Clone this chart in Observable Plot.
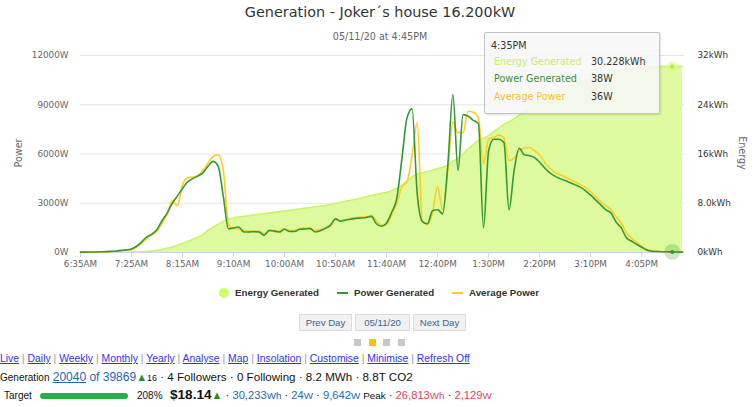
<!DOCTYPE html>
<html><head><meta charset="utf-8">
<script src="https://cdn.jsdelivr.net/npm/d3@7"></script>
<script src="https://cdn.jsdelivr.net/npm/@observablehq/plot@0.6"></script>
<style>
body{margin:0;background:#fff;}
#wrap{position:relative;width:756px;height:407px;overflow:hidden;font-family:"Liberation Sans",Arial,sans-serif;}
.abs{position:absolute;white-space:nowrap;}
#chart{position:absolute;left:0;top:0;}
.dj{font-family:"DejaVu Sans",sans-serif;}
.btn{position:absolute;top:314px;height:15px;background:#f1f1f1;border:1px solid #dcdcdc;color:#3a6493;font-size:9.6px;line-height:15px;text-align:center;}
.sq{position:absolute;top:339px;width:7px;height:7px;background:#c8c8c8;}
a{color:#3333ee;text-decoration:underline;}
.sep{color:#999;}
.blue{color:#2467b3;}
.red{color:#e0455a;}
</style></head><body><div id="wrap">
<div id="chart"></div>
<div class="abs dj" style="left:0;width:760px;text-align:center;top:4px;font-size:14.4px;line-height:16px;color:#333;">Generation - Joker´s house 16.200kW</div>
<div class="abs dj" style="left:0;width:760px;text-align:center;top:31px;font-size:9.6px;line-height:11px;color:#666;">05/11/20 at 4:45PM</div>
<div class="abs dj" style="left:18px;top:153px;font-size:9.6px;color:#666;transform:translate(-50%,-50%) rotate(-90deg);">Power</div>
<div class="abs dj" style="left:742px;top:153px;font-size:9.6px;color:#666;transform:translate(-50%,-50%) rotate(90deg);">Energy</div>
<div id="tip" class="abs dj" style="left:484px;top:32px;width:174px;height:80px;background:rgba(247,247,247,0.88);border:1px solid #c4c4c4;border-radius:2px;box-shadow:1px 1px 2px rgba(0,0,0,0.12);font-size:9.6px;color:#333;">
</div>
<div id="legend" class="abs" style="left:0;top:286px;width:756px;height:14px;font-size:9.75px;font-weight:bold;color:#333;"></div>
<div class="btn" style="left:299px;width:51px;">Prev Day</div>
<div class="btn" style="left:355px;width:53px;">05/11/20</div>
<div class="btn" style="left:413px;width:51px;">Next Day</div>
<div class="sq" style="left:354px;"></div>
<div class="sq" style="left:369px;background:#f5c400;"></div>
<div class="sq" style="left:383px;"></div>
<div class="sq" style="left:398px;"></div>
<div id="links" class="abs" style="left:0;top:353px;font-size:10.4px;line-height:12px;"></div>
<div class="abs" style="left:0;top:370px;font-size:11.6px;line-height:14px;color:#111;"><span style="font-size:10px;">Generation</span> <a class="blue" style="font-size:12px;color:#2467b3;">20040</a><span class="blue" style="font-size:12px;"> of 39869</span><span style="color:#2a8a2a;font-size:11px;">▲</span><span style="font-size:9px;">16</span> · 4 Followers · 0 Following · 8.2 MWh · 8.8T CO2</div>
<div class="abs" style="left:4px;top:389px;font-size:10px;line-height:14px;color:#111;">Target</div>
<div class="abs" style="left:40px;top:393px;width:88px;height:6px;border-radius:3px;background:#27b04a;"></div>
<div class="abs" style="left:137px;top:389px;font-size:10px;line-height:14px;color:#111;">208%</div>
<div class="abs" style="left:170px;top:387px;font-size:11.2px;line-height:16px;color:#111;"><b style="font-size:13.6px;">$18.14</b><span style="color:#2a8a2a;font-size:11px;">▲</span> · <span class="blue">30,233</span><span class="blue" style="font-size:9.8px;">Wh</span> · <span class="blue">24</span><span class="blue" style="font-size:9.8px;">W</span> · <span class="blue">9,642</span><span class="blue" style="font-size:9.8px;">W</span> <span style="font-size:9.8px;">Peak</span> · <span class="red">26,813</span><span class="red" style="font-size:9.8px;">Wh</span> · <span class="red">2,129</span><span class="red" style="font-size:9.8px;">W</span></div>
</div>
<script>
// ---- data ----
const timeLabels = ["6:35AM","7:25AM","8:15AM","9:10AM","10:00AM","10:50AM","11:40AM","12:40PM","1:30PM","2:20PM","3:10PM","4:05PM"];
const tickIdx = [0,10,20,30,40,50,60,70,80,90,100,110];
const powerTicks = [0,3000,6000,9000,12000];
const energyTicks = [0,8,16,24,32];
const energyTickLabels = ["0kWh","8.0kWh","16kWh","24kWh","32kWh"];
const power = [20,25,30,35,45,55,70,90,130,160,
 220,380,650,950,1120,1400,1950,2400,3000,3450,
 3900,4300,4500,4650,4850,5250,5550,5250,3400,1450,
 1500,1550,1250,1250,1270,1250,1050,1350,1300,1250,
 1420,1280,1280,1420,1430,1470,1250,1330,1470,1650,
 2050,1900,1980,2030,2080,2100,2130,2200,1750,1600,
 1800,2450,3300,5700,8200,8750,3600,1900,1750,2550,
 2600,2350,5300,9620,5000,8400,8300,8050,7850,1500,
 6200,6900,6900,6700,2600,5000,6350,5950,5900,5780,
 5500,5150,4850,4650,4500,4380,4250,4120,3980,3760,
 3500,3200,2900,2600,2400,1850,1500,900,700,500,
 320,150,80,60,48,42,38,30,24];
const avgPower = [15,20,25,30,40,50,60,80,110,140,
 190,330,560,850,1100,1300,1800,2350,3150,2850,
 4100,4550,4600,4700,5000,5450,5850,5950,5000,1700,
 1450,1450,1350,1300,1280,1300,1150,1300,1350,1300,
 1450,1330,1350,1450,1500,1450,1350,1400,1500,1700,
 2000,1950,2000,2080,2120,2150,2180,2250,1950,1650,
 1700,2300,3000,4000,4300,5900,7900,1900,1700,2400,
 4000,2600,5000,7950,7300,7300,8600,8550,8200,5400,
 6900,7000,7150,7000,5600,5750,6200,6350,6400,6200,
 5950,5500,5150,4900,4750,4600,4450,4300,4150,3950,
 3700,3400,3100,2850,2600,2200,1800,1200,880,620,
 400,200,110,70,50,42,36,30,25];
const energy = [0,0,0.01,0.01,0.02,0.02,0.03,0.04,0.05,0.06,
 0.08,0.1,0.13,0.18,0.26,0.36,0.5,0.68,0.9,1.15,
 1.45,1.78,2.12,2.5,2.9,3.6,4.1,4.6,5.05,5.4,
 5.6,5.75,5.87,5.98,6.09,6.2,6.3,6.41,6.52,6.63,
 6.74,6.85,6.96,7.07,7.19,7.31,7.42,7.53,7.65,7.8,
 7.97,8.14,8.31,8.49,8.67,8.86,9.05,9.24,9.42,9.6,
 9.8,10.05,10.4,10.9,11.6,12.3,12.7,12.95,13.15,13.35,
 13.6,13.85,14.2,14.8,15.3,16.0,16.8,17.5,18.2,18.5,
 19.0,19.6,20.2,20.8,21.2,21.7,22.3,22.9,23.5,24.1,
 24.7,25.15,25.55,25.95,26.35,26.7,27.05,27.4,27.7,28.0,
 28.3,28.55,28.8,29.05,29.25,29.45,29.6,29.72,29.82,29.92,
 30.0,30.08,30.14,30.18,30.21,30.22,30.228,30.231,30.233];
const hoverIndex = 116;
const hoverLabel = "4:35PM";
const seriesNames = ["Energy Generated","Power Generated","Average Power"];
const colors = {energy:"#ccff66", energyFill:"#ddfb9e", energyLine:"#c8f46a", power:"#339933", avg:"#ffcc22"};

// ---- chart ----
const kE = 12000/32; // energy (kWh) mapped onto the power axis
const idx = d3.range(power.length);
const eLabel = new Map(energyTicks.map((e,i)=>[e*kE, energyTickLabels[i]]));
const chart = Plot.plot({
  width: 756, height: 283,
  marginTop: 55, marginBottom: 31, marginLeft: 80, marginRight: 72,
  style: {fontFamily: "DejaVu Sans, sans-serif", fontSize: "8.8px", background: "transparent", overflow: "visible"},
  x: {type: "linear", domain: [0, 118.4], axis: null},
  y: {domain: [0, 12000], axis: null},
  marks: [
    Plot.gridY(powerTicks, {stroke: "#e6e6e6", strokeOpacity: 1}),
    Plot.areaY(idx, {x: i=>i, y: i=>energy[i]*kE, fill: colors.energyFill, curve: "monotone-x"}),
    Plot.lineY(idx, {x: i=>i, y: i=>energy[i]*kE, stroke: colors.energyLine, strokeWidth: 1.5, curve: "monotone-x"}),
    Plot.ruleY([0], {stroke: "#ccd6eb"}),
    Plot.axisX({ticks: tickIdx, tickFormat: d=>timeLabels[tickIdx.indexOf(d)], tickSize: 5, tickPadding: 3, stroke: "#ccd6eb", fill: "#666", label: null}),
    Plot.axisY({anchor: "left", ticks: powerTicks, tickFormat: d=>d+"W", tickSize: 0, tickPadding: 12, fill: "#666", label: null}),
    Plot.axisY({anchor: "right", ticks: energyTicks.map(e=>e*kE), tickFormat: d=>eLabel.get(d), tickSize: 0, tickPadding: 13, fill: "#333", label: null}),
    Plot.lineY(idx, {x: i=>i, y: i=>avgPower[i], stroke: colors.avg, strokeWidth: 1.6, curve: "monotone-x"}),
    Plot.lineY(idx, {x: i=>i, y: i=>power[i], stroke: colors.power, strokeWidth: 1.6, curve: "monotone-x"}),
    Plot.dot([hoverIndex], {x: d=>d, y: d=>energy[d]*kE, r: 5, fill: colors.energy, fillOpacity: 0.5}),
    Plot.dot([hoverIndex], {x: d=>d, y: d=>energy[d]*kE, r: 2, fill: "#b8e65a"}),
    Plot.dot([hoverIndex], {x: d=>d, y: d=>power[d], r: 8, fill: colors.power, fillOpacity: 0.25}),
    Plot.dot([hoverIndex], {x: d=>d, y: d=>power[d], r: 2, fill: colors.power})
  ]
});
document.getElementById("chart").appendChild(chart);

// ---- tooltip ----
const tip = document.getElementById("tip");
const rows = [
  [hoverLabel, "", "#333", 7],
  [seriesNames[0], energy[hoverIndex].toFixed(3)+"kWh", "#c6f05e", 23],
  [seriesNames[1], power[hoverIndex]+"W", "#3a8f3a", 40],
  [seriesNames[2], avgPower[hoverIndex]+"W", "#f8c030", 58]
];
rows.forEach(([name,val,col,top],k)=>{
  const a = document.createElement("div");
  a.className="abs"; a.style.left=(k===0?6:9)+"px"; a.style.top=top+"px"; a.style.color=col; a.textContent=name;
  tip.appendChild(a);
  if(val){const b=document.createElement("div"); b.className="abs"; b.style.left="106px"; b.style.top=top+"px"; b.style.color="#333"; b.textContent=val; tip.appendChild(b);}
});

// ---- legend ----
const lg = document.getElementById("legend");
const items = [
  {name: seriesNames[0], sym: "circle", col: colors.energy, x: 219},
  {name: seriesNames[1], sym: "line", col: colors.power, x: 337},
  {name: seriesNames[2], sym: "line", col: colors.avg, x: 452}
];
items.forEach(it=>{
  const s=document.createElement("div"); s.className="abs";
  if(it.sym==="circle"){s.style.cssText+=`left:${it.x}px;top:2px;width:10px;height:10px;border-radius:5px;background:${it.col};`;}
  else {s.style.cssText+=`left:${it.x}px;top:6px;width:11px;height:2px;background:${it.col};`;}
  lg.appendChild(s);
  const t=document.createElement("div"); t.className="abs"; t.style.left=(it.x+(it.sym==="circle"?16:17))+"px"; t.style.top="0px"; t.style.lineHeight="14px"; t.textContent=it.name;
  lg.appendChild(t);
});

// ---- links ----
const linkNames = ["Live","Daily","Weekly","Monthly","Yearly","Analyse","Map","Insolation","Customise","Minimise","Refresh Off"];
const ln = document.getElementById("links");
linkNames.forEach((n,i)=>{
  if(i>0){const s=document.createElement("span"); s.className="sep"; s.textContent=" | "; ln.appendChild(s);}
  const a=document.createElement("a"); a.textContent=n; ln.appendChild(a);
});
</script>
</body></html>
